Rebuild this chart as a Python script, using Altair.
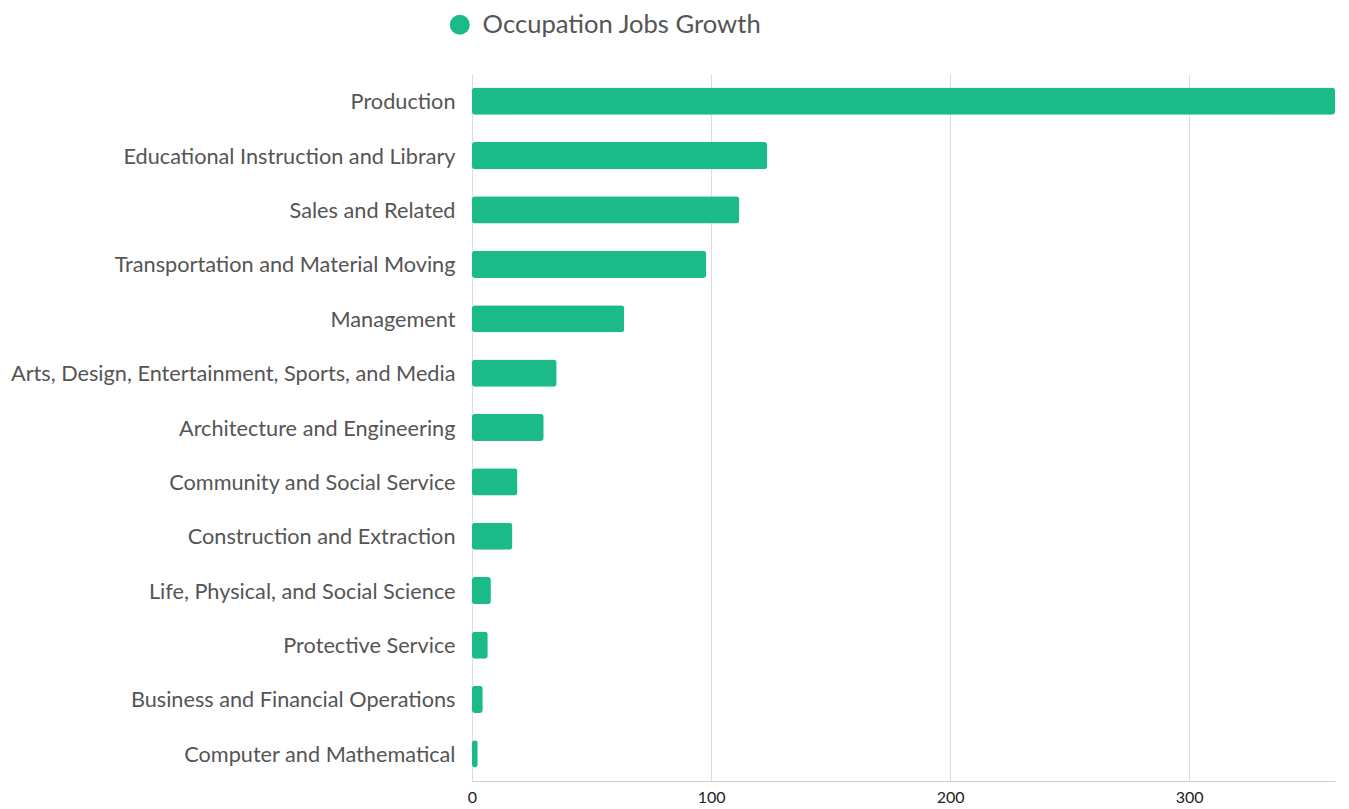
import altair as alt
import pandas as pd

categories = [
    "Production",
    "Educational Instruction and Library",
    "Sales and Related",
    "Transportation and Material Moving",
    "Management",
    "Arts, Design, Entertainment, Sports, and Media",
    "Architecture and Engineering",
    "Community and Social Service",
    "Construction and Extraction",
    "Life, Physical, and Social Science",
    "Protective Service",
    "Business and Financial Operations",
    "Computer and Mathematical",
]
values = [361, 123.5, 111.8, 98, 63.7, 35.4, 30, 19, 16.9, 7.9, 6.6, 4.5, 2.4]
series = ["Occupation Jobs Growth"] * len(categories)

df = pd.DataFrame({"category": categories, "value": values, "series": series})

FONT = "Lato"

chart = alt.Chart(df).mark_bar(cornerRadius=3).encode(
    y=alt.Y("category:N", sort=categories, title=None,
            scale=alt.Scale(paddingInner=0.5, paddingOuter=0.25),
            axis=alt.Axis(labelFontSize=21.7, labelColor="#555555", labelFont=FONT,
                          ticks=False, domain=False, labelPadding=17, labelLimit=700,
                          labelOffset=1)),
    x=alt.X("value:Q", title=None,
            scale=alt.Scale(domain=[0, 361], nice=False),
            axis=alt.Axis(values=[0, 100, 200, 300], labelFontSize=16, labelColor="#222222",
                          labelFont=FONT, ticks=False, domainColor="#cccccc",
                          gridColor="#dddddd", labelPadding=8, labelFlush=False)),
    color=alt.Color("series:N", scale=alt.Scale(range=["#1abb89"]),
                    legend=alt.Legend(title=None, orient="none", legendX=-25, legendY=-62,
                                      symbolType="circle", symbolSize=400,
                                      labelFontSize=25.6, labelFont=FONT, labelColor="#555555",
                                      symbolStrokeWidth=0, labelOffset=10, labelLimit=900)),
).properties(
    width=863, height=707,
    autosize="none",
    padding={"left": 464, "top": 66, "right": 6, "bottom": 30},
).configure_view(stroke=None)

chart.save("out.html", embed_options={"renderer": "svg", "actions": False})
